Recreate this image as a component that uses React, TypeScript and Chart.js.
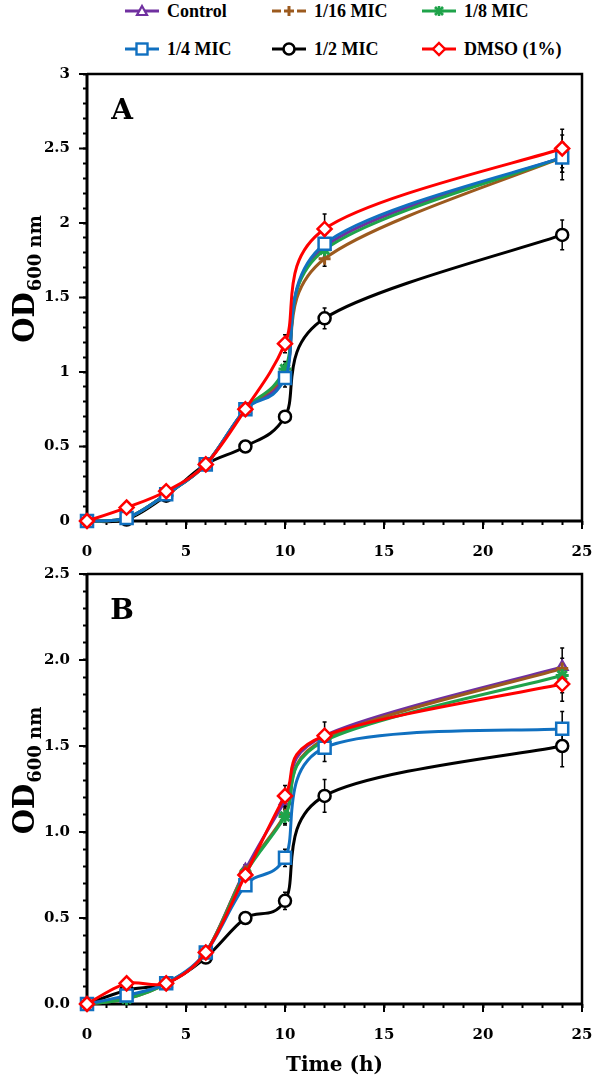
import React, { useEffect, useRef } from 'react';
import { Chart, registerables } from 'chart.js';

Chart.register(...registerables);

// ---------------- data ----------------
const timeH = [0, 2, 4, 6, 8, 10, 12, 24];
const seriesNames = ['Control', '1/16 MIC', '1/8 MIC', '1/4 MIC', '1/2 MIC', 'DMSO (1%)'];

// Panel A
const controlA = [0, 0.02, 0.18, 0.38, 0.75, 0.98, 1.84, 2.44];
const mic16A = [0, 0.02, 0.18, 0.38, 0.75, 1.0, 1.76, 2.44];
const mic8A = [0, 0.02, 0.18, 0.38, 0.75, 1.02, 1.82, 2.44];
const mic4A = [0, 0.02, 0.18, 0.38, 0.75, 0.96, 1.86, 2.44];
const mic2A = [0, 0.01, 0.17, 0.38, 0.5, 0.7, 1.36, 1.92];
const dmsoA = [0, 0.09, 0.2, 0.38, 0.75, 1.19, 1.96, 2.5];

const errControlA = [0, 0, 0, 0, 0, 0, 0, 0];
const err16A = [0, 0, 0, 0, 0, 0.05, 0.05, 0.1];
const err8A = [0, 0, 0, 0, 0, 0.05, 0.05, 0.1];
const err4A = [0, 0, 0, 0, 0, 0.06, 0.06, 0.15];
const err2A = [0, 0, 0, 0, 0, 0.03, 0.07, 0.1];
const errDmsoA = [0, 0, 0, 0, 0, 0.06, 0.1, 0.13];

// Panel B
const controlB = [0, 0.04, 0.12, 0.3, 0.78, 1.18, 1.56, 1.96];
const mic16B = [0, 0.03, 0.12, 0.3, 0.77, 1.1, 1.54, 1.95];
const mic8B = [0, 0.03, 0.12, 0.3, 0.76, 1.09, 1.53, 1.91];
const mic4B = [0, 0.05, 0.12, 0.3, 0.69, 0.85, 1.49, 1.6];
const mic2B = [0, 0.08, 0.12, 0.27, 0.5, 0.6, 1.21, 1.5];
const dmsoB = [0, 0.12, 0.12, 0.3, 0.75, 1.21, 1.56, 1.86];

const errControlB = [0, 0, 0, 0, 0, 0.05, 0, 0];
const err16B = [0, 0, 0, 0, 0.04, 0.05, 0.05, 0.12];
const err8B = [0, 0, 0, 0, 0, 0.05, 0.05, 0.1];
const err4B = [0, 0, 0, 0, 0, 0.05, 0.08, 0.1];
const err2B = [0, 0, 0, 0, 0, 0.05, 0.095, 0.12];
const errDmsoB = [0, 0, 0, 0, 0, 0.06, 0.08, 0.1];

const xTickLabels = ['0', '5', '10', '15', '20', '25'];
const yTickLabelsA = ['0', '0.5', '1', '1.5', '2', '2.5', '3'];
const yTickLabelsB = ['0.0', '0.5', '1.0', '1.5', '2.0', '2.5'];

// ---------------- styles ----------------
const seriesStyles = [
  { color: '#7030A0', pointStyle: 'triangle', radius: 6, pbw: 2.4, order: 4, dash: false },
  { color: '#9C5A1E', pointStyle: 'cross', radius: 6, pbw: 3, order: 3, dash: true },
  { color: '#1FA34A', pointStyle: 'star', radius: 6.5, pbw: 3, order: 2, dash: false },
  { color: '#1070C0', pointStyle: 'rect', radius: 8.5, pbw: 2.5, order: 1, dash: false },
  { color: '#000000', pointStyle: 'circle', radius: 6, pbw: 2.5, order: 5, dash: false },
  { color: '#FF0000', pointStyle: 'rectRot', radius: 7, pbw: 2.5, order: 0, dash: false },
];

const TICK_FONT = { family: 'DejaVu Serif', weight: 'bold' as const, size: 15 };

// --------------- plugins ---------------
const excelSmooth = {
  id: 'excelSmooth',
  beforeDatasetDraw(chart: any, args: any) {
    const meta = args.meta;
    const pts = meta.data as any[];
    const n = pts.length;
    for (let i = 0; i < n; i++) {
      const p = pts[i];
      const prev = pts[Math.max(0, i - 1)];
      const next = pts[Math.min(n - 1, i + 1)];
      const dx = (next.x - prev.x) / 6;
      const dy = (next.y - prev.y) / 6;
      p.cp1x = p.x - dx;
      p.cp1y = p.y - dy;
      p.cp2x = p.x + dx;
      p.cp2y = p.y + dy;
    }
    if (meta.dataset) meta.dataset._pointsUpdated = true;
  },
};

const errorBars = {
  id: 'errorBars',
  beforeDatasetsDraw(chart: any) {
    const ctx = chart.ctx;
    const ys = chart.scales.y;
    ctx.save();
    ctx.strokeStyle = '#000';
    ctx.lineWidth = 1.5;
    chart.data.datasets.forEach((ds: any, i: number) => {
      const meta = chart.getDatasetMeta(i);
      (ds.errorBars || []).forEach((e: number, j: number) => {
        if (!e) return;
        const pt = meta.data[j];
        const v = ds.data[j];
        const y1 = ys.getPixelForValue(v + e);
        const y2 = ys.getPixelForValue(v - e);
        ctx.beginPath();
        ctx.moveTo(pt.x, y1);
        ctx.lineTo(pt.x, y2);
        ctx.moveTo(pt.x - 2, y1);
        ctx.lineTo(pt.x + 2, y1);
        ctx.moveTo(pt.x - 2, y2);
        ctx.lineTo(pt.x + 2, y2);
        ctx.stroke();
      });
    });
    ctx.restore();
  },
};

const frameDecor = {
  id: 'frameDecor',
  beforeDatasetsDraw(chart: any) {
    const { ctx, chartArea: a } = chart;
    ctx.save();
    ctx.strokeStyle = '#000';
    ctx.lineWidth = 2.5;
    ctx.beginPath();
    ctx.moveTo(a.left, a.top);
    ctx.lineTo(a.right, a.top);
    ctx.lineTo(a.right, a.bottom);
    ctx.stroke();
    ctx.lineWidth = 3;
    ctx.beginPath();
    ctx.moveTo(a.left, a.top);
    ctx.lineTo(a.left, a.bottom);
    ctx.lineTo(a.right, a.bottom);
    ctx.stroke();
    // major ticks (longer)
    ctx.lineWidth = 2;
    const xs = chart.scales.x;
    const ys = chart.scales.y;
    ctx.beginPath();
    xs.ticks.forEach((t: any) => {
      if (Math.abs(t.value / 5 - Math.round(t.value / 5)) < 1e-6) {
        const x = xs.getPixelForValue(t.value);
        ctx.moveTo(x, a.bottom);
        ctx.lineTo(x, a.bottom + 8);
      }
    });
    ys.ticks.forEach((t: any) => {
      if (Math.abs(t.value * 2 - Math.round(t.value * 2)) < 1e-6) {
        const y = ys.getPixelForValue(t.value);
        ctx.moveTo(a.left, y);
        ctx.lineTo(a.left - 8, y);
      }
    });
    ctx.stroke();
    ctx.restore();
  },
  afterDraw(chart: any) {
    const { ctx, chartArea: a } = chart;
    const opts = chart.options.plugins.frameDecor || {};
    ctx.save();
    ctx.fillStyle = '#000';
    // panel letter
    ctx.font = 'bold 28px "DejaVu Serif"';
    ctx.textAlign = 'center';
    ctx.textBaseline = 'middle';
    ctx.fillText(opts.letter || '', opts.letterX, opts.letterY);
    // y label with subscript
    const cy = (a.top + a.bottom) / 2 - 18;
    ctx.translate(opts.ylabelX, cy);
    ctx.rotate(-Math.PI / 2);
    ctx.textAlign = 'left';
    ctx.textBaseline = 'alphabetic';
    const mainFont = 'bold 29px "DejaVu Serif"';
    const subFont = 'bold 18px "DejaVu Serif"';
    ctx.font = mainFont;
    const w1 = ctx.measureText('OD').width;
    ctx.font = subFont;
    const w2 = ctx.measureText('600 nm').width;
    const start = -(w1 + w2) / 2;
    ctx.font = mainFont;
    ctx.fillText('OD', start, 9);
    ctx.font = subFont;
    ctx.fillText('600 nm', start + w1 + 1, 16);
    ctx.restore();
  },
};

// --------------- chart builder ---------------
function buildConfig(
  values: number[][],
  errors: number[][],
  yMax: number,
  yLabels: string[],
  xAxisHeight: number,
  withTitle: boolean,
  letter: string
) {
  const datasets = values.map((vals, i) => {
    const s = seriesStyles[i];
    return {
      label: seriesNames[i],
      data: vals,
      errorBars: errors[i],
      borderColor: s.color,
      backgroundColor: '#ffffff',
      borderWidth: 3,
      tension: 0.4,
      pointStyle: s.pointStyle,
      pointRadius: s.radius,
      pointBorderWidth: s.pbw,
      pointBorderColor: s.color,
      pointBackgroundColor: '#ffffff',
      order: s.order,
      clip: false,
      fill: false,
    };
  });
  return {
    type: 'line',
    data: { labels: timeH, datasets },
    options: {
      animation: false,
      responsive: false,
      parsing: true,
      layout: { padding: { top: 14, right: 15, left: 0, bottom: 0 } },
      plugins: {
        legend: { display: false },
        tooltip: { enabled: false },
        frameDecor: { letter, letterX: 122, letterY: 52, ylabelX: 25 },
      },
      scales: {
        x: {
          type: 'linear',
          min: 0,
          max: 25,
          ticks: {
            stepSize: 1,
            autoSkip: false,
            maxRotation: 0,
            minRotation: 0,
            padding: 18,
            color: '#000',
            font: TICK_FONT,
            callback: (v: number) =>
              Math.abs(v / 5 - Math.round(v / 5)) < 1e-6 ? xTickLabels[Math.round(v / 5)] : '',
          },
          grid: { drawOnChartArea: false, drawTicks: true, tickLength: 4, tickColor: '#000', tickWidth: 2 },
          border: { display: false },
          title: {
            display: withTitle,
            text: 'Time (h)',
            color: '#000',
            font: { family: 'DejaVu Serif', weight: 'bold', size: 20 },
            padding: { top: 0, bottom: 1 },
          },
          afterFit: (s: any) => {
            s.height = xAxisHeight;
            s.paddingLeft = 0;
            s.paddingRight = 0;
          },
        },
        y: {
          type: 'linear',
          min: 0,
          max: yMax,
          ticks: {
            stepSize: 0.1,
            autoSkip: false,
            padding: 13,
            color: '#000',
            font: TICK_FONT,
            callback: (v: number) =>
              Math.abs(v * 2 - Math.round(v * 2)) < 1e-6 ? yLabels[Math.round(v * 2)] : '',
          },
          grid: { drawOnChartArea: false, drawTicks: true, tickLength: 4, tickColor: '#000', tickWidth: 2 },
          border: { display: false },
          afterFit: (s: any) => {
            s.width = 87;
            s.paddingTop = 0;
            s.paddingBottom = 0;
          },
        },
      },
    },
    plugins: [excelSmooth, errorBars, frameDecor],
  } as any;
}

// --------------- legend ---------------
function LegendIcon({ idx }: { idx: number }) {
  const s = seriesStyles[idx];
  const c = s.color;
  const cx = 17;
  const cy = 8;
  let marker: any = null;
  switch (s.pointStyle) {
    case 'triangle':
      marker = <polygon points={`${cx},${cy - 5} ${cx + 5},${cy + 4} ${cx - 5},${cy + 4}`} fill="#fff" stroke={c} strokeWidth={2.2} />;
      break;
    case 'cross':
      marker = (
        <g stroke={c} strokeWidth={3}>
          <line x1={cx - 5} y1={cy} x2={cx + 5} y2={cy} />
          <line x1={cx} y1={cy - 5} x2={cx} y2={cy + 5} />
        </g>
      );
      break;
    case 'star':
      marker = (
        <g stroke={c} strokeWidth={2.6}>
          <line x1={cx - 5} y1={cy} x2={cx + 5} y2={cy} />
          <line x1={cx} y1={cy - 5} x2={cx} y2={cy + 5} />
          <line x1={cx - 4} y1={cy - 4} x2={cx + 4} y2={cy + 4} />
          <line x1={cx - 4} y1={cy + 4} x2={cx + 4} y2={cy - 4} />
        </g>
      );
      break;
    case 'rect':
      marker = <rect x={cx - 5.5} y={cy - 5.5} width={11} height={11} fill="#fff" stroke={c} strokeWidth={2.4} />;
      break;
    case 'circle':
      marker = <circle cx={cx} cy={cy} r={5.5} fill="#fff" stroke={c} strokeWidth={2.6} />;
      break;
    case 'rectRot':
      marker = <polygon points={`${cx},${cy - 6} ${cx + 6},${cy} ${cx},${cy + 6} ${cx - 6},${cy}`} fill="#fff" stroke={c} strokeWidth={2.4} />;
      break;
  }
  return (
    <svg width={34} height={16} style={{ display: 'block' }}>
      {s.dash ? (
        <g stroke={c} strokeWidth={3}>
          <line x1={0} y1={cy} x2={9} y2={cy} />
          <line x1={25} y1={cy} x2={34} y2={cy} />
        </g>
      ) : (
        <line x1={0} y1={cy} x2={34} y2={cy} stroke={c} strokeWidth={3} />
      )}
      {marker}
    </svg>
  );
}

const legendCols = [125, 272, 422];
const legendRows = [11, 49];

function Legend() {
  return (
    <>
      {seriesNames.map((name, i) => {
        const col = legendCols[i % 3];
        const row = legendRows[Math.floor(i / 3)];
        return (
          <div
            key={name}
            style={{
              position: 'absolute',
              left: col,
              top: row - 11,
              height: 22,
              display: 'flex',
              alignItems: 'center',
              gap: 8,
              whiteSpace: 'nowrap',
            }}
          >
            <LegendIcon idx={i} />
            <span style={{ fontFamily: '"Liberation Serif", serif', fontWeight: 'bold', fontSize: 18, color: '#000', lineHeight: '22px' }}>
              {name}
            </span>
          </div>
        );
      })}
    </>
  );
}

export default function App() {
  const refA = useRef<HTMLCanvasElement>(null);
  const refB = useRef<HTMLCanvasElement>(null);

  useEffect(() => {
    const chartA = new Chart(
      refA.current as HTMLCanvasElement,
      buildConfig(
        [controlA, mic16A, mic8A, mic4A, mic2A, dmsoA],
        [errControlA, err16A, err8A, err4A, err2A, errDmsoA],
        3,
        yTickLabelsA,
        39,
        false,
        'A'
      )
    );
    const chartB = new Chart(
      refB.current as HTMLCanvasElement,
      buildConfig(
        [controlB, mic16B, mic8B, mic4B, mic2B, dmsoB],
        [errControlB, err16B, err8B, err4B, err2B, errDmsoB],
        2.5,
        yTickLabelsB,
        75,
        true,
        'B'
      )
    );
    return () => {
      chartA.destroy();
      chartB.destroy();
    };
  }, []);

  return (
    <div style={{ position: 'absolute', left: 0, top: 0, width: 597, height: 1079, background: '#fff', overflow: 'hidden' }}>
      <Legend />
      <canvas ref={refA} width={597} height={500} style={{ position: 'absolute', left: 0, top: 60, width: 597, height: 500 }} />
      <canvas ref={refB} width={597} height={519} style={{ position: 'absolute', left: 0, top: 560, width: 597, height: 519 }} />
    </div>
  );
}
